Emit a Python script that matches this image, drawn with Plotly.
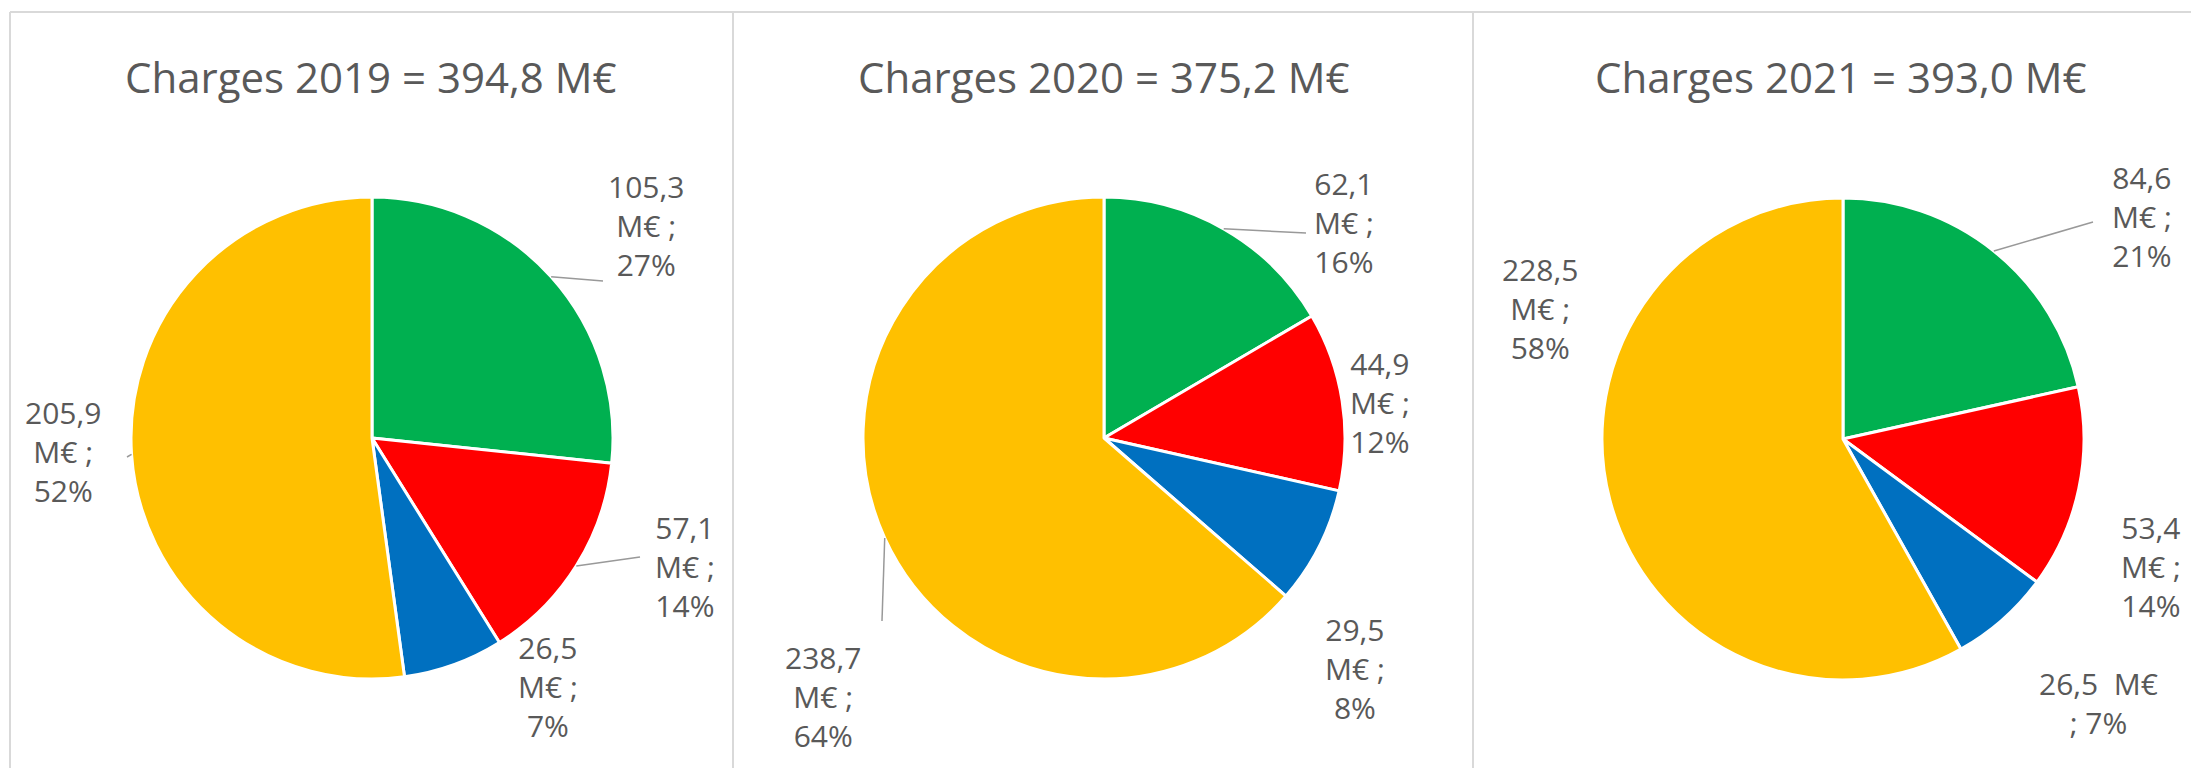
import math
import plotly.graph_objects as go

W, H = 2191, 768

years = ["2019", "2020", "2021"]
categories = ["Poste A", "Poste B", "Poste C", "Poste D"]
values_2019 = [105.3, 57.1, 26.5, 205.9]
values_2020 = [62.1, 44.9, 29.5, 238.7]
values_2021 = [84.6, 53.4, 26.5, 228.5]
pct_2019 = [27, 14, 7, 52]
pct_2020 = [16, 12, 8, 64]
pct_2021 = [21, 14, 7, 58]

colors = ["#00B050", "#FF0000", "#0070C0", "#FFC000"]

# layout (pixels)
centers = [(372, 438), (1104, 438), (1843, 439)]
radius = 241
title_x = [371, 1104, 1841]
title_y = 76
# label block centres per pie (pixels)
label_pos = [
    [(646, 226), (685, 566), (548, 686), (63, 451)],
    [(1344, 222), (1380, 402), (1355, 668), (823, 696)],
    [(2142, 216), (2151, 566), (2098, 703), (1540, 308)],
]
# leader-line end points (None = no leader)
leader_end = [
    [(603, 281), (640, 557), None, (127, 457)],
    [(1306, 233), None, None, (882, 621)],
    [(2093, 222), None, None, None],
]

all_values = [values_2019, values_2020, values_2021]
all_pct = [pct_2019, pct_2020, pct_2021]


def fmt(v):
    return f"{v:.1f}".replace(".", ",")


def px(x):
    return x / W


def py(y):
    return 1 - y / H


fig = go.Figure()
annotations = []
shapes = []
text_color = "#595959"

for i, (yr, vals, pcts) in enumerate(zip(years, all_values, all_pct)):
    cx, cy = centers[i]
    fig.add_trace(go.Pie(
        labels=categories, values=vals, sort=False, direction="clockwise",
        rotation=0, textinfo="none", hoverinfo="label+value+percent",
        marker=dict(colors=colors, line=dict(color="white", width=3)),
        domain=dict(x=[px(cx - radius), px(cx + radius)],
                    y=[py(cy + radius), py(cy - radius)]),
        showlegend=False,
    ))
    total = sum(vals)
    annotations.append(dict(
        text=f"Charges {yr} = {fmt(total)} M€", x=px(title_x[i]), y=py(title_y),
        xref="paper", yref="paper", showarrow=False, xanchor="center", yanchor="middle",
        font=dict(family="Open Sans", size=42, color=text_color)))
    cum = 0.0
    for j, (v, p) in enumerate(zip(vals, pcts)):
        mid = (cum + v / 2) / total * 2 * math.pi
        cum += v
        if i == 2 and j == 2:
            txt = f"{fmt(v)}  M€<br>; {p}%"
        else:
            txt = f"{fmt(v)}<br>M€ ;<br>{p}%"
        lx, ly = label_pos[i][j]
        annotations.append(dict(
            text=txt, x=px(lx), y=py(ly), xref="paper", yref="paper",
            showarrow=False, xanchor="center", yanchor="middle", align="center",
            font=dict(family="Open Sans", size=30, color=text_color)))
        end = leader_end[i][j]
        if end is not None:
            ex, ey = cx + radius * math.sin(mid), cy - radius * math.cos(mid)
            shapes.append(dict(type="line", xref="paper", yref="paper",
                               x0=px(ex), y0=py(ey), x1=px(end[0]), y1=py(end[1]),
                               line=dict(color="#999999", width=1.5)))

# panel borders
border = dict(color="#d9d9d9", width=2)
shapes.append(dict(type="line", xref="paper", yref="paper", x0=px(10), x1=1, y0=py(12), y1=py(12), line=border))
for bx in [10, 733, 1473]:
    shapes.append(dict(type="line", xref="paper", yref="paper", x0=px(bx), x1=px(bx), y0=py(12), y1=0, line=border))

fig.update_layout(
    width=W, height=H, autosize=False,
    margin=dict(l=0, r=0, t=0, b=0),
    paper_bgcolor="white", plot_bgcolor="white",
    annotations=annotations, shapes=shapes,
)

fig.write_html("out.html")
